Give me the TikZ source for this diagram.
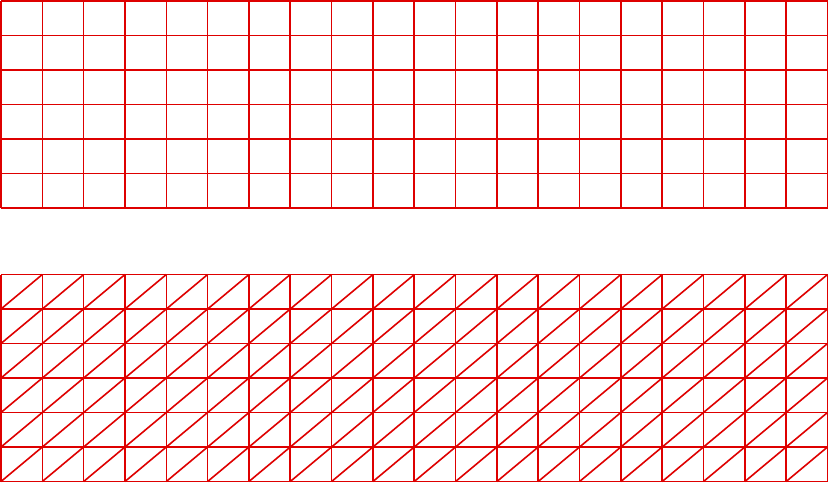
\documentclass[tikz,border=0pt]{standalone}
\definecolor{gridred}{RGB}{222,0,0}
\begin{document}
\begin{tikzpicture}[x=1pt,y=-1pt,gridline/.style={draw=gridred,line width=1.6pt}]
\useasboundingbox (0,0) rectangle (830,485);
\def\xa{1}\def\xb{827.5}
\pgfmathsetmacro{\cw}{(\xb-\xa)/20}
% top grid
\def\ta{1}\def\tb{208}
\pgfmathsetmacro{\rh}{(\tb-\ta)/6}
\foreach \i in {0,...,20} {
  \draw[gridline] ({\xa+\i*\cw},\ta) -- ({\xa+\i*\cw},\tb);
}
\foreach \j in {0,...,6} {
  \draw[gridline] (\xa,{\ta+\j*\rh}) -- (\xb,{\ta+\j*\rh});
}
% bottom grid
\def\ba{274.5}\def\bb{481.5}
\pgfmathsetmacro{\rhb}{(\bb-\ba)/6}
\foreach \i in {0,...,20} {
  \draw[gridline] ({\xa+\i*\cw},\ba) -- ({\xa+\i*\cw},\bb);
}
\foreach \j in {0,...,6} {
  \draw[gridline] (\xa,{\ba+\j*\rhb}) -- (\xb,{\ba+\j*\rhb});
}
\foreach \i in {0,...,19} {
  \foreach \j in {1,...,6} {
    \draw[gridline] ({\xa+\i*\cw},{\ba+\j*\rhb}) -- ({\xa+(\i+1)*\cw},{\ba+(\j-1)*\rhb});
  }
}
\end{tikzpicture}
\end{document}
